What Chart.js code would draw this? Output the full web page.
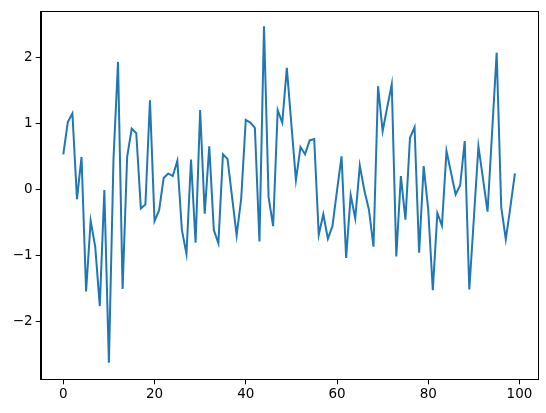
<!DOCTYPE html>
<html lang="en">
<head>
    <meta charset="UTF-8">
    <title>Line chart</title>
    <script src="https://cdn.jsdelivr.net/npm/chart.js"></script>
    <style>
        html, body { margin: 0; padding: 0; background: #fff; }
        #wrap { width: 546px; height: 413px; }
    </style>
</head>
<body>
    <div id="wrap"><canvas id="lineChart" width="546" height="413"></canvas></div>

    <script>
        // values, index 0..99
        const yValues = [
            0.53, 1.02, 1.15, -0.15, 0.49, -1.55, -0.48, -0.87, -1.77, -0.01,
            -2.63, 0.45, 1.93, -1.51, 0.49, 0.92, 0.85, -0.29, -0.23, 1.35,
            -0.48, -0.32, 0.17, 0.24, 0.20, 0.43, -0.62, -0.98, 0.45, -0.81,
            1.20, -0.37, 0.65, -0.62, -0.82, 0.53, 0.46, -0.12, -0.70, -0.14,
            1.05, 1.01, 0.93, -0.79, 2.47, -0.12, -0.56, 1.20, 1.01, 1.84,
            0.98, 0.14, 0.64, 0.53, 0.74, 0.76, -0.69, -0.38, -0.75, -0.56,
            -0.02, 0.50, -1.04, -0.09, -0.44, 0.36, -0.02, -0.31, -0.87, 1.56,
            0.88, 1.24, 1.59, -1.02, 0.20, -0.46, 0.78, 0.94, -0.96, 0.35,
            -0.31, -1.53, -0.36, -0.55, 0.58, 0.25, -0.08, 0.06, 0.73, -1.52,
            -0.44, 0.65, 0.16, -0.34, 0.87, 2.07, -0.27, -0.76, -0.27, 0.24
        ];
        const xTicks = [0, 20, 40, 60, 80, 100];
        const yTicks = [-2, -1, 0, 1, 2];

        const points = yValues.map((v, i) => ({ x: i, y: v }));

        // full box around the axes, like matplotlib's spines
        const frame = {
            id: 'frame',
            afterDraw(chart) {
                const { ctx, chartArea: a } = chart;
                ctx.save();
                ctx.strokeStyle = '#000';
                ctx.lineWidth = 1;
                ctx.strokeRect(Math.round(a.left) + 0.5, Math.round(a.top) + 0.5,
                    Math.round(a.right - a.left), Math.round(a.bottom - a.top));
                ctx.restore();
            }
        };

        const tickFont = { family: 'DejaVu Sans', size: 13.5 };
        const minus = v => v < 0 ? '\u2212' + Math.abs(v) : String(v);

        new Chart(document.getElementById('lineChart'), {
            type: 'line',
            data: {
                datasets: [{
                    data: points,
                    borderColor: '#1f77b4',
                    borderWidth: 2,
                    pointRadius: 0,
                    tension: 0,
                    fill: false
                }]
            },
            options: {
                responsive: false,
                animation: false,
                devicePixelRatio: 1,
                layout: { padding: { top: 10.7, right: 8.5, left: 0, bottom: 0 } },
                plugins: { legend: { display: false }, tooltip: { enabled: false } },
                scales: {
                    x: {
                        type: 'linear',
                        min: -4.95,
                        max: 103.95,
                        afterBuildTicks: s => { s.ticks = xTicks.map(v => ({ value: v })); },
                        afterFit: s => { s.height = 33.7; },
                        grid: { drawOnChartArea: false, drawTicks: true, tickLength: 5, color: '#000' },
                        border: { display: true, color: '#000' },
                        ticks: { color: '#000', font: tickFont, padding: 2, maxRotation: 0 }
                    },
                    y: {
                        type: 'linear',
                        min: -2.88,
                        max: 2.70,
                        afterBuildTicks: s => { s.ticks = yTicks.map(v => ({ value: v })); },
                        afterFit: s => { s.width = 40.7; },
                        grid: { drawOnChartArea: false, drawTicks: true, tickLength: 5, color: '#000' },
                        border: { display: true, color: '#000' },
                        ticks: { color: '#000', font: tickFont, padding: 3, callback: v => minus(v) }
                    }
                }
            },
            plugins: [frame]
        });
    </script>
</body>
</html>
